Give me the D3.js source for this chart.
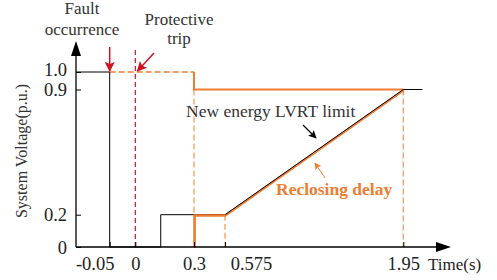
<!DOCTYPE html>
<html>
<head>
<meta charset="utf-8">
<script src="https://cdn.jsdelivr.net/npm/d3@7"></script>
<style>
  body { margin: 0; background: #fff; }
  svg text { font-family: "Liberation Serif", "Times New Roman", serif; }
</style>
</head>
<body>
<div id="chart"></div>
<script>
// data (schematic, so the axes are piecewise)
var xTicks = [-0.05, 0, 0.3, 0.575, 1.95];
var xTickLabels = ["-0.05", "0", "0.3", "0.575", "1.95"];
var yTicks = [0, 0.2, 0.9, 1.0];
var yTickLabels = ["0", "0.2", "0.9", "1.0"];

// black line: system voltage / LVRT limit
var systemVoltage = [[-0.116, 1.0], [-0.05, 1.0], [-0.05, 0], [0.13, 0], [0.13, 0.2], [0.575, 0.2], [1.95, 0.9], [2.01, 0.9]];
// orange solid lines
var reclosingDelay = [[0.3, 0], [0.3, 0.2], [0.575, 0.2], [1.95, 0.9]];
var protectiveTrip = [[0.3, 1.0], [0.3, 0.9], [1.95, 0.9]];
// orange dashed guides
var orangeDashed = [
    [[-0.05, 1.0], [0.3, 1.0]],
    [[0.3, 0.9], [0.3, 0.2]],
    [[0.575, 0.2], [0.575, 0]],
    [[1.95, 0.9], [1.95, 0]]
];
// red dashed line at t = 0
var redDashed = [[0, 0], [0, 1.14]];

var svgWidth = 497;
var svgHeight = 280;

var svg = d3.select("#chart")
    .append("svg")
    .attr("width", svgWidth)
    .attr("height", svgHeight);

var serif = "'Liberation Serif', 'Times New Roman', serif";
var orange = "#ed7d31";
var red = "#d0121f";
var ink = "#222";

// piecewise scales, the figure is not to scale
var xScale = d3.scaleLinear()
    .domain([-0.116, -0.05, 0, 0.3, 0.575, 1.95, 2.1])
    .range([76, 109.7, 135.3, 194, 225, 403.3, 451]);

var yScale = d3.scaleLinear()
    .domain([0, 0.2, 0.9, 1.0, 1.17])
    .range([247, 214.7, 89.5, 72, 42]);

var line = d3.line()
    .x(d => xScale(d[0]))
    .y(d => yScale(d[1]));

// arrow markers
var defs = svg.append("defs");
function marker(id, color, w, h) {
    defs.append("marker")
        .attr("id", id)
        .attr("viewBox", "0 0 10 10")
        .attr("refX", 9)
        .attr("refY", 5)
        .attr("markerUnits", "userSpaceOnUse")
        .attr("markerWidth", w)
        .attr("markerHeight", h)
        .attr("orient", "auto")
        .append("path")
        .attr("d", "M0,0 L10,5 L0,10 L2,5 Z")
        .attr("fill", color);
}
marker("redArrow", red, 11, 10);
marker("blackArrow", "#000", 9, 8);
marker("orangeArrow", orange, 8, 7);

// dashed guides
svg.append("path")
    .attr("d", line(redDashed))
    .attr("fill", "none")
    .attr("stroke", red)
    .attr("stroke-width", 1.2)
    .attr("stroke-dasharray", "5,3");

orangeDashed.forEach(function(seg, i) {
    svg.append("path")
        .attr("d", line(seg))
        .attr("fill", "none")
        .attr("stroke", orange)
        .attr("stroke-opacity", i == 0 ? 1 : 0.75)
        .attr("stroke-width", 1.3)
        .attr("stroke-dasharray", "6,3");
});

// orange solid
svg.append("path")
    .attr("d", line(protectiveTrip))
    .attr("fill", "none")
    .attr("stroke", orange)
    .attr("stroke-width", 2);

svg.append("path")
    .attr("d", line(reclosingDelay))
    .attr("transform", "translate(0.6,0.6)")
    .attr("fill", "none")
    .attr("stroke", orange)
    .attr("stroke-width", 2.2);

// black line on top
svg.append("path")
    .attr("d", line(systemVoltage))
    .attr("fill", "none")
    .attr("stroke", "#000")
    .attr("stroke-width", 1);

// redraw the orange 0.2 step over the black one
svg.append("path")
    .attr("d", line(reclosingDelay.slice(0, 3)))
    .attr("transform", "translate(0.6,0.6)")
    .attr("fill", "none")
    .attr("stroke", orange)
    .attr("stroke-width", 2.2);

// axes
var xAxis = d3.axisBottom(xScale)
    .tickValues(xTicks)
    .tickFormat((d, i) => xTickLabels[i])
    .tickSizeInner(-5)
    .tickSizeOuter(0)
    .tickPadding(9.5);

var yAxis = d3.axisLeft(yScale)
    .tickValues(yTicks)
    .tickFormat((d, i) => yTickLabels[i])
    .tickSizeInner(-5)
    .tickSizeOuter(0)
    .tickPadding(9);

var gx = svg.append("g")
    .attr("transform", `translate(0, ${yScale(0)})`)
    .call(xAxis);
var gy = svg.append("g")
    .attr("transform", `translate(${xScale(-0.116)}, 0)`)
    .call(yAxis);

[gx, gy].forEach(function(g) {
    g.attr("font-family", serif);
    g.select(".domain").remove();
    g.selectAll(".tick line").attr("stroke", "#000");
    g.selectAll(".tick text")
        .attr("fill", ink)
        .style("font-size", "18.5px");
});
// labels shifted to avoid crowding, as in the figure
gx.selectAll(".tick text").attr("dx", (d, i) => i == 0 ? -15 : (i == 3 ? 26 : 0));
gy.selectAll(".tick text").attr("dy", (d, i) => i == 3 ? "0.2em" : "0.34em");

// axis lines with arrow heads
var x0 = xScale(-0.116), y0 = yScale(0);
svg.append("line")
    .attr("x1", x0).attr("y1", y0)
    .attr("x2", 440).attr("y2", y0)
    .attr("stroke", "#000").attr("stroke-width", 1.3);
svg.append("path")
    .attr("d", `M451,${y0} L436,${y0 - 5} L436,${y0 + 5} Z`)
    .attr("fill", "#000");
svg.append("line")
    .attr("x1", x0).attr("y1", y0)
    .attr("x2", x0).attr("y2", 52)
    .attr("stroke", "#000").attr("stroke-width", 1.3);
svg.append("path")
    .attr("d", `M${x0},41 L${x0 - 5},56 L${x0 + 5},56 Z`)
    .attr("fill", "#000");

// axis titles
svg.append("text")
    .attr("x", 428)
    .attr("y", 270)
    .attr("fill", ink)
    .style("font-size", "17px")
    .text("Time(s)");

svg.append("text")
    .attr("transform", "translate(27, 151) rotate(-90)")
    .attr("text-anchor", "middle")
    .attr("fill", "#333")
    .style("font-size", "16px")
    .text("System Voltage(p.u.)");

// annotations
function twoLines(x, ys, words) {
    words.forEach(function(w, i) {
        svg.append("text")
            .attr("x", x)
            .attr("y", ys[i])
            .attr("text-anchor", "middle")
            .attr("fill", "#333")
            .style("font-size", "17px")
            .text(w);
    });
}
twoLines(82, [14, 35], ["Fault", "occurrence"]);
twoLines(179, [25, 44], ["Protective", "trip"]);

svg.append("line")
    .attr("x1", xScale(-0.05)).attr("y1", 47)
    .attr("x2", xScale(-0.05)).attr("y2", 71)
    .attr("stroke", red).attr("stroke-width", 1.5)
    .attr("marker-end", "url(#redArrow)");
svg.append("line")
    .attr("x1", 154).attr("y1", 53)
    .attr("x2", 137.5).attr("y2", 71)
    .attr("stroke", red).attr("stroke-width", 1.5)
    .attr("marker-end", "url(#redArrow)");

svg.append("text")
    .attr("x", 186)
    .attr("y", 117)
    .attr("fill", "#333")
    .style("font-size", "17.5px")
    .text("New energy LVRT limit");
svg.append("line")
    .attr("x1", 303).attr("y1", 125)
    .attr("x2", 316).attr("y2", 138)
    .attr("stroke", "#000").attr("stroke-width", 1.2)
    .attr("marker-end", "url(#blackArrow)");

svg.append("text")
    .attr("x", 276)
    .attr("y", 195)
    .attr("fill", orange)
    .style("font-size", "17.5px")
    .style("font-weight", "bold")
    .text("Reclosing delay");
svg.append("line")
    .attr("x1", 325).attr("y1", 178)
    .attr("x2", 315).attr("y2", 163)
    .attr("stroke", orange).attr("stroke-width", 1)
    .attr("marker-end", "url(#orangeArrow)");
</script>
</body>
</html>
